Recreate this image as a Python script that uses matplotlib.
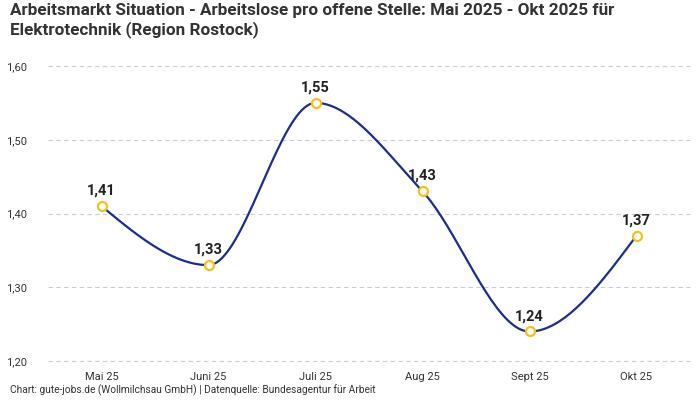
import numpy as np
import matplotlib
matplotlib.use('Agg')
import matplotlib.pyplot as plt

# Daten
monate = ['Mai 25', 'Juni 25', 'Juli 25', 'Aug 25', 'Sept 25', 'Okt 25']
werte = [1.41, 1.33, 1.55, 1.43, 1.24, 1.37]
y_ticks = [1.20, 1.30, 1.40, 1.50, 1.60]

plt.rcParams['font.family'] = ['Roboto', 'DejaVu Sans']


def monotone_x(x, y, n=40):
    # monotone kubische Interpolation (wie d3.curveMonotoneX)
    x = np.asarray(x, float)
    y = np.asarray(y, float)
    h = np.diff(x)
    s = np.diff(y) / h
    t = np.zeros_like(y)
    for i in range(1, len(y) - 1):
        p = (s[i - 1] * h[i] + s[i] * h[i - 1]) / (h[i - 1] + h[i])
        t[i] = (np.sign(s[i - 1]) + np.sign(s[i])) * min(abs(s[i - 1]), abs(s[i]), 0.5 * abs(p))
    t[0] = (3 * s[0] - t[1]) / 2
    t[-1] = (3 * s[-1] - t[-2]) / 2
    xs, ys = [], []
    for i in range(len(x) - 1):
        u = np.linspace(0, 1, n)
        dx = h[i] / 3
        p0, p3 = y[i], y[i + 1]
        p1, p2 = y[i] + dx * t[i], y[i + 1] - dx * t[i + 1]
        xs.append(x[i] + u * h[i])
        ys.append((1 - u) ** 3 * p0 + 3 * (1 - u) ** 2 * u * p1 + 3 * (1 - u) * u ** 2 * p2 + u ** 3 * p3)
    return np.concatenate(xs), np.concatenate(ys)


fig = plt.figure(figsize=(7, 4), dpi=100)
ax = fig.add_axes([48 / 700, 39 / 400, 642 / 700, 295 / 400])

pos = np.arange(len(monate))
kx, ky = monotone_x(pos, werte)
ax.plot(kx, ky, color='#1c2e8c', lw=1.6, zorder=3)
ax.plot(pos, werte, 'o', ms=6.5, mfc='white', mec='#f5c21b', mew=1.6, zorder=4)

for xi, yi in zip(pos, werte):
    ax.annotate(f'{yi:.2f}'.replace('.', ','), (xi, yi), xytext=(0, 6),
                textcoords='offset points', ha='center', va='bottom',
                fontsize=10.5, fontweight='bold', color='#222222')

ax.set_xlim(-0.5, len(monate) - 0.5)
ax.set_ylim(1.20, 1.60)
ax.set_yticks(y_ticks)
ax.set_yticklabels([f'{v:.2f}'.replace('.', ',') for v in y_ticks])
ax.set_xticks(pos)
ax.set_xticklabels(monate)
ax.tick_params(axis='both', length=0, labelsize=8, colors='#333333')
ax.tick_params(axis='y', pad=15)
ax.tick_params(axis='x', pad=8)
ax.yaxis.grid(True, color='#cccccc', linestyle=(0, (4, 3)), lw=0.8)
for gl in ax.get_ygridlines():
    gl.set_clip_on(False)
ax.set_axisbelow(True)
for sp in ax.spines.values():
    sp.set_visible(False)

fig.text(10 / 700, 1 - 3 / 400,
         'Arbeitsmarkt Situation - Arbeitslose pro offene Stelle: Mai 2025 - Okt 2025 für\n'
         'Elektrotechnik (Region Rostock)',
         ha='left', va='top', fontsize=12.3, fontweight='bold', color='#333333', linespacing=1.2)
fig.text(10 / 700, 7 / 400,
         'Chart: gute-jobs.de (Wollmilchsau GmbH) | Datenquelle: Bundesagentur für Arbeit',
         ha='left', va='baseline', fontsize=7.3, color='#333333')

fig.savefig('out.png', dpi=100)
